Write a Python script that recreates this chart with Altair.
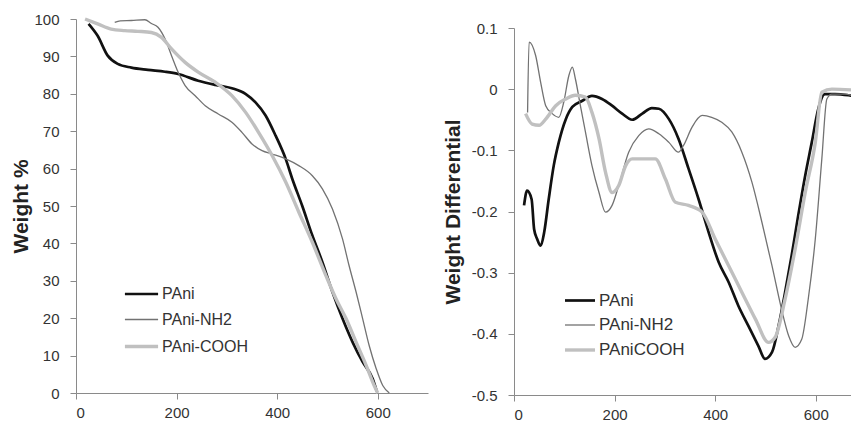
import altair as alt
import pandas as pd

# ---------- Left panel: Weight % ----------
L_SERIES = ["PAni", "PAni-NH2", "PAni-COOH"]
l_pani_t = [25, 43, 63, 83, 110, 143, 177, 203, 243, 277, 310, 337, 357, 377, 397, 417, 430, 450, 470, 490, 510, 530, 550, 570, 590, 598]
l_pani_w = [98.7, 95.5, 90.2, 88, 87, 86.4, 85.9, 85.3, 83.5, 82.4, 81.5, 80, 77.7, 74.2, 68.8, 62.6, 57.3, 50, 42.1, 35, 27, 19.9, 13.6, 8.3, 3.8, 0.5]
l_nh2_t = [77, 88, 110, 137, 150, 163, 177, 190, 203, 217, 237, 257, 283, 310, 330, 350, 370, 390, 417, 443, 470, 490, 510, 530, 543, 557, 570, 583, 597, 610, 623]
l_nh2_w = [99.1, 99.5, 99.6, 99.8, 98.8, 97.8, 94.7, 90.2, 85.8, 82.2, 79.5, 76.8, 74.6, 72.4, 69.7, 66.6, 64.8, 63.9, 62.6, 60.8, 58.1, 54.6, 49.2, 41.2, 34.1, 27, 19.9, 12.7, 6.5, 2, 0]
l_cooh_t = [18, 43, 70, 97, 123, 150, 170, 190, 217, 243, 277, 310, 337, 363, 390, 417, 443, 470, 497, 517, 537, 557, 577, 593, 600]
l_cooh_w = [100, 98.7, 97.3, 96.9, 96.7, 96.4, 95.1, 92, 88.4, 85.8, 83.1, 79.5, 75.1, 69.7, 63.5, 56.4, 48.4, 40.3, 31.4, 25.2, 19.9, 13.6, 7.4, 2, 0]

# ---------- Right panel: Weight Differential ----------
R_SERIES = ["PAni", "PAni-NH2", "PAniCOOH"]
r_pani_t = [20, 26, 35, 40, 46, 53, 60, 69, 79, 89, 103, 116, 136, 155, 175, 195, 215, 235, 255, 274, 288, 308, 327, 347, 367, 387, 407, 427, 446, 466, 486, 499, 513, 526, 539, 552, 565, 579, 592, 605, 618, 638, 665, 685]
r_pani_d = [-0.19, -0.166, -0.18, -0.229, -0.245, -0.256, -0.234, -0.18, -0.125, -0.087, -0.049, -0.029, -0.019, -0.011, -0.016, -0.027, -0.04, -0.05, -0.04, -0.031, -0.032, -0.049, -0.081, -0.13, -0.18, -0.234, -0.283, -0.316, -0.354, -0.387, -0.42, -0.441, -0.43, -0.387, -0.332, -0.272, -0.207, -0.141, -0.087, -0.032, -0.008, -0.008, -0.01, -0.013]
r_nh2_t = [27, 30, 43, 53, 63, 76, 89, 99, 109, 116, 122, 132, 142, 155, 169, 182, 195, 208, 228, 248, 268, 288, 308, 327, 337, 354, 374, 393, 413, 433, 453, 473, 493, 513, 532, 546, 559, 572, 585, 599, 612, 622, 632, 658, 678, 685]
r_nh2_d = [-0.038, 0.077, 0.055, 0.011, -0.027, -0.04, -0.046, -0.021, 0.022, 0.036, 0.017, -0.027, -0.07, -0.125, -0.169, -0.201, -0.19, -0.158, -0.103, -0.076, -0.065, -0.073, -0.087, -0.103, -0.092, -0.062, -0.043, -0.046, -0.054, -0.07, -0.103, -0.152, -0.218, -0.289, -0.36, -0.403, -0.422, -0.409, -0.343, -0.245, -0.114, -0.016, -0.008, -0.008, -0.013, -0.016]
r_cooh_t = [23, 36, 50, 63, 83, 103, 122, 142, 155, 169, 182, 195, 208, 222, 235, 281, 301, 321, 347, 374, 400, 427, 453, 480, 506, 519, 539, 559, 579, 599, 612, 632, 685]
r_cooh_d = [-0.04, -0.057, -0.059, -0.049, -0.027, -0.016, -0.01, -0.013, -0.038, -0.081, -0.136, -0.169, -0.158, -0.125, -0.114, -0.114, -0.147, -0.185, -0.19, -0.201, -0.245, -0.289, -0.332, -0.376, -0.414, -0.406, -0.343, -0.261, -0.169, -0.087, -0.005, 0, -0.002]

COLORS = ["#111111", "#727272", "#c0c0c0"]
WIDTHS = [2.7, 1.3, 3.4]
FONT = "Liberation Sans"


def frame(series, pairs, ycol):
    rows = []
    for name, (ts, vs) in zip(series, pairs):
        for t, v in zip(ts, vs):
            rows.append({"T": t, ycol: v, "Series": name})
    return pd.DataFrame(rows)


left_df = frame(L_SERIES, [(l_pani_t, l_pani_w), (l_nh2_t, l_nh2_w), (l_cooh_t, l_cooh_w)], "W")
right_df = frame(R_SERIES, [(r_pani_t, r_pani_d), (r_nh2_t, r_nh2_d), (r_cooh_t, r_cooh_d)], "D")

axis_common = dict(grid=False, domainColor="#8a8a8a", tickColor="#8a8a8a", tickSize=6,
                   labelColor="#333333", labelFont=FONT, labelFontSize=15,
                   titleFont=FONT, titleFontSize=21, titleFontWeight="bold", titleColor="#222222")


def legend(x, y, size, fs):
    return alt.Legend(title=None, orient="none", legendX=x, legendY=y, symbolType="stroke",
                      symbolSize=size, labelFont=FONT, labelFontSize=fs, labelColor="#333333",
                      rowPadding=0, labelOffset=2)


left = alt.Chart(left_df).mark_line(interpolate="monotone").encode(
    x=alt.X("T:Q", scale=alt.Scale(domain=[0, 700], nice=False),
            axis=alt.Axis(values=[0, 200, 400, 600], title=None, labelPadding=6, **axis_common)),
    y=alt.Y("W:Q", scale=alt.Scale(domain=[0, 100]),
            axis=alt.Axis(values=list(range(0, 101, 10)), title="Weight %", labelPadding=11,
                          titlePadding=2, **axis_common)),
    color=alt.Color("Series:N", scale=alt.Scale(domain=L_SERIES, range=COLORS),
                    legend=legend(47, 257, 1100, 16)),
    strokeWidth=alt.StrokeWidth("Series:N", scale=alt.Scale(type="ordinal", domain=L_SERIES, range=WIDTHS),
                                legend=legend(47, 257, 1100, 16)),
).properties(width=352, height=374)

right = alt.Chart(right_df).mark_line(interpolate="monotone", clip=True).encode(
    x=alt.X("T:Q", scale=alt.Scale(domain=[0, 670], nice=False),
            axis=alt.Axis(values=[0, 200, 400, 600], title=None, labelPadding=6, **axis_common)),
    y=alt.Y("D:Q", scale=alt.Scale(domain=[-0.5, 0.1], nice=False),
            axis=alt.Axis(values=[-0.5, -0.4, -0.3, -0.2, -0.1, 0, 0.1], title="Weight Differential",
                          labelExpr="replace(format(datum.value, '~g'), '\u2212', '-')",
                          labelPadding=11, titlePadding=8, **axis_common)),
    color=alt.Color("Series:N", scale=alt.Scale(domain=R_SERIES, range=COLORS),
                    legend=legend(49, 265, 900, 17)),
    strokeWidth=alt.StrokeWidth("Series:N", scale=alt.Scale(type="ordinal", domain=R_SERIES, range=WIDTHS),
                                legend=legend(49, 265, 900, 17)),
).properties(width=337, height=367)

spacer = alt.Chart(pd.DataFrame({"s": [0]})).mark_point(opacity=0, size=1).encode(
    x=alt.value(0), y=alt.value(0)
).properties(width=337, height=1)

right_col = alt.vconcat(spacer, right, spacing=1)

chart = alt.hconcat(left, right_col, spacing=14).resolve_scale(
    color="independent", strokeWidth="independent"
).resolve_legend(color="independent", strokeWidth="independent").properties(
    padding={"left": 2, "top": 4, "right": 0, "bottom": 0}, background="white"
).configure_view(stroke=None)

chart.save("out.html", embed_options={"renderer": "svg", "actions": False})
